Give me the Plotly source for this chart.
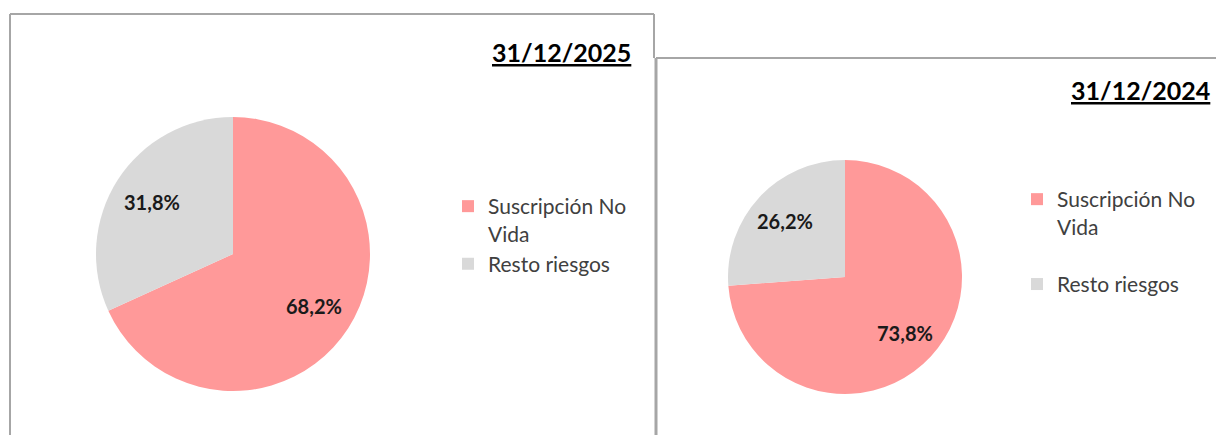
import math
import plotly.graph_objects as go

W, H = 1216, 435

categories = ["Suscripción No Vida", "Resto riesgos"]
values_2025 = [68.2, 31.8]
values_2024 = [73.8, 26.2]
titles = ["31/12/2025", "31/12/2024"]
colors = ["#FF9999", "#D9D9D9"]

FONT = "Lato, Open Sans, sans-serif"


def px_x(x):
    return x / W


def px_y(y):
    return 1 - y / H


NB = "\u00a0"
legend_labels_1 = [c.replace("No Vida", "No<br>Vida") for c in categories]
# distinct label strings so the second pie gets its own legend (renders identically)
legend_labels_2 = ["<span>" + c.replace("No Vida", "No<br>Vida<br>" + NB) + "</span>" for c in categories]

# pie geometry in page pixels: (cx, cy, r)
pies = [
    dict(values=values_2025, labels=legend_labels_1, geom=(233, 254, 137), legend="legend"),
    dict(values=values_2024, labels=legend_labels_2, geom=(845, 277, 117), legend="legend2"),
]

fig = go.Figure()
annotations = []

for p in pies:
    cx, cy, r = p["geom"]
    fig.add_trace(go.Pie(
        labels=p["labels"], values=p["values"], sort=False, direction="clockwise",
        rotation=0, marker=dict(colors=colors, line=dict(width=0)),
        textinfo="none",
        domain=dict(x=[px_x(cx - r), px_x(cx + r)], y=[px_y(cy + r), px_y(cy - r)]),
        legend=p["legend"], hoverinfo="label+percent",
    ))
    # data labels placed at the middle angle of each slice
    total = sum(p["values"])
    cum = 0.0
    for v in p["values"]:
        mid = (cum + v / 2) / total * 2 * math.pi  # clockwise from 12 o'clock
        cum += v
        k = 0.70
        lx = cx + k * r * math.sin(mid)
        ly = cy - k * r * math.cos(mid)
        txt = f"{v / total * 100:.1f}%".replace(".", ",")
        annotations.append(dict(
            text="<b>" + txt + "</b>", xref="paper", yref="paper",
            x=px_x(lx), y=px_y(ly), xanchor="center", yanchor="middle", showarrow=False,
            font=dict(family=FONT, size=20, color="#1a1a1a"),
        ))

border = dict(color="#A6A6A6", width=2)
shapes = [
    # left panel box
    dict(type="line", xref="paper", yref="paper", x0=px_x(10), x1=px_x(654), y0=px_y(14), y1=px_y(14), line=border),
    dict(type="line", xref="paper", yref="paper", x0=px_x(10), x1=px_x(10), y0=px_y(14), y1=px_y(445), line=border),
    dict(type="line", xref="paper", yref="paper", x0=px_x(654), x1=px_x(654), y0=px_y(14), y1=px_y(58), line=border),
    # right panel box
    dict(type="line", xref="paper", yref="paper", x0=px_x(656), x1=px_x(1230), y0=px_y(58), y1=px_y(58), line=border),
    dict(type="line", xref="paper", yref="paper", x0=px_x(656), x1=px_x(656), y0=px_y(58), y1=px_y(445),
         line=dict(color="#A6A6A6", width=3)),
]

annotations += [
    dict(text="<b><u>" + titles[0] + "</u></b>", xref="paper", yref="paper",
         x=px_x(633), y=px_y(52), xanchor="right", yanchor="middle", showarrow=False,
         font=dict(family=FONT, size=25, color="#000000")),
    dict(text="<b><u>" + titles[1] + "</u></b>", xref="paper", yref="paper",
         x=px_x(1212), y=px_y(90), xanchor="right", yanchor="middle", showarrow=False,
         font=dict(family=FONT, size=25, color="#000000")),
]

leg_common = dict(font=dict(family=FONT, size=21, color="#404040"), bgcolor="rgba(0,0,0,0)",
                  valign="top", xanchor="left", yanchor="top", tracegroupgap=0)

fig.update_layout(
    width=W, height=H, margin=dict(l=0, r=0, t=0, b=0),
    paper_bgcolor="white", plot_bgcolor="white",
    shapes=shapes, annotations=annotations,
    legend=dict(x=px_x(448), y=px_y(186), **leg_common),
    legend2=dict(x=px_x(1017), y=px_y(179), **leg_common),
    showlegend=True,
)

fig.write_html(
    "out.html",
    config={"displayModeBar": False},
    post_script="document.body.style.margin='0';document.body.style.overflow='hidden';",
)
